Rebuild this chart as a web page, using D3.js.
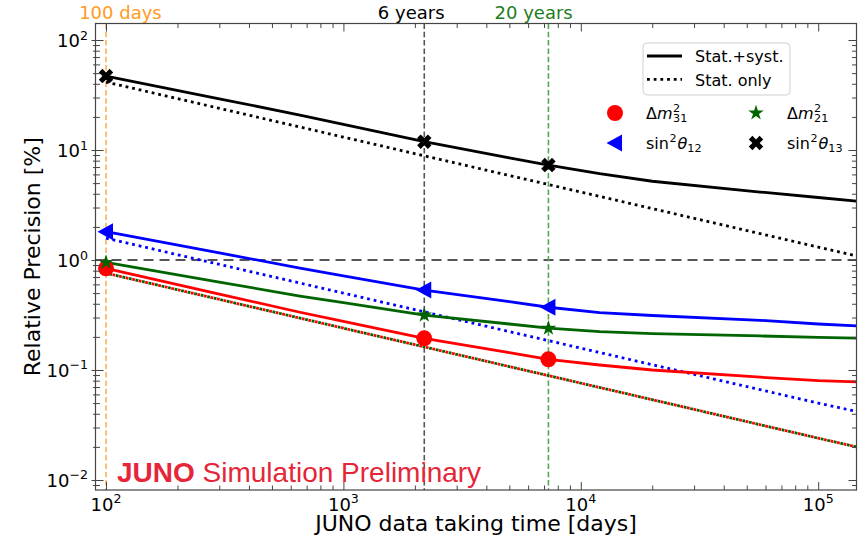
<!DOCTYPE html>
<html><head><meta charset="utf-8">
<script src="https://cdn.jsdelivr.net/npm/d3@7"></script>
<style>body{margin:0;background:#fff} svg{display:block}</style>
</head><body><svg id="c" width="862" height="541"></svg>
<script>
// ---------------- data ----------------
const days      = [100, 300, 656, 1000, 2191, 5000, 7305, 12000, 20000, 57000, 100000, 145000];
const dm31Syst  = [0.84, 0.49, 0.335, 0.277, 0.194, 0.144, 0.125, 0.111, 0.100, 0.086, 0.080, 0.078];
const dm21Syst  = [0.95, 0.63, 0.47, 0.409, 0.316, 0.262, 0.240, 0.223, 0.214, 0.204, 0.198, 0.195];
const s12Syst   = [1.81, 1.16, 0.845, 0.719, 0.533, 0.418, 0.372, 0.333, 0.313, 0.283, 0.262, 0.252];
const s13Syst   = [47, 29.2, 20.8, 17.1, 11.9, 8.5, 7.3, 6.1, 5.2, 4.15, 3.7, 3.43];
const statDays  = [100, 1000, 10000, 100000, 145000];
const dm31Stat  = [0.76, 0.24, 0.076, 0.024, 0.020];
const dm21Stat  = [0.76, 0.24, 0.076, 0.024, 0.020];
const s12Stat   = [1.58, 0.50, 0.158, 0.050, 0.042];
const s13Stat   = [41.5, 13.1, 4.15, 1.31, 1.09];
const markerDays = [100, 2191, 7305];
const refDays    = [100, 2191, 7305];
const refLabels  = ["100 days", "6 years", "20 years"];
const refLabelDays = [115, 1930, 6330];
const xTickVals = [1e2, 1e3, 1e4, 1e5];
const xTickExp  = ["2", "3", "4", "5"];
const yTickVals = [1e-2, 1e-1, 1, 1e1, 1e2];
const yTickExp  = ["\u22122", "\u22121", "0", "1", "2"];

// ---------------- layout ----------------
const L = 95.5, R = 856.5, T = 23.5, B = 490;
const svg = d3.select("#c");
const x = d3.scaleLog().domain([90.3, 145000]).range([L, R]);
const y = d3.scaleLog().domain([0.00811, 141.3]).range([B, T]);
const FONT = "DejaVu Sans, Verdana, sans-serif";

svg.append("defs").append("clipPath").attr("id", "clip")
  .append("rect").attr("x", L).attr("y", T).attr("width", R - L).attr("height", B - T);

const series = [
  {name: "dm31", color: "#ff0000", syst: dm31Syst, stat: dm31Stat, marker: "circle"},
  {name: "dm21", color: "#006400", syst: dm21Syst, stat: dm21Stat, marker: "star"},
  {name: "s12",  color: "#0000ff", syst: s12Syst,  stat: s12Stat,  marker: "tri"},
  {name: "s13",  color: "#000000", syst: s13Syst,  stat: s13Stat,  marker: "x"}
];

// reference lines
const refLine = ["#ffb05a", "#555555", "#55a555"];
const refText = ["#ff9a22", "#000000", "#1e7d1e"];
const plot = svg.append("g").attr("clip-path", "url(#clip)");
plot.append("line").attr("x1", L).attr("x2", R).attr("y1", y(1)).attr("y2", y(1))
  .attr("stroke", "#555").attr("stroke-width", 1.8).attr("stroke-dasharray", "10,6");
refDays.forEach((d, i) => {
  plot.append("line").attr("x1", x(d)).attr("x2", x(d)).attr("y1", T).attr("y2", B)
    .attr("stroke", refLine[i]).attr("stroke-width", 1.6).attr("stroke-dasharray", "5.5,2.8");
  svg.append("text").attr("x", x(refLabelDays[i])).attr("y", 19.3).attr("text-anchor", "middle")
    .attr("font-family", FONT).attr("font-size", 18).attr("fill", refText[i]).text(refLabels[i]);
});

// lines
const lineGen = (xs) => d3.line().x((d, i) => x(xs[i])).y(d => y(d));
series.forEach(s => {
  plot.append("path").attr("d", lineGen(statDays)(s.stat)).attr("fill", "none")
    .attr("stroke", s.color).attr("stroke-width", 2.8).attr("stroke-dasharray", "2.8,3.9")
    .attr("stroke-dashoffset", s.name === "dm21" ? 3.3 : 0);
});
series.forEach(s => {
  plot.append("path").attr("d", lineGen(days)(s.syst)).attr("fill", "none")
    .attr("stroke", s.color).attr("stroke-width", 2.8).attr("stroke-linejoin", "round");
});

// markers
function marker(g, type, cx, cy, color) {
  if (type === "circle") {
    g.append("circle").attr("cx", cx).attr("cy", cy).attr("r", 8).attr("fill", color);
  } else if (type === "tri") {
    g.append("path").attr("d", `M${cx - 8.5},${cy} L${cx + 7},${cy - 8.5} L${cx + 7},${cy + 8.5} Z`).attr("fill", color);
  } else if (type === "star") {
    g.append("path").attr("d", d3.symbol(d3.symbolStar, 75)()).attr("transform", `translate(${cx},${cy})`).attr("fill", color);
  } else if (type === "x") {
    g.append("path").attr("d", d3.symbol(d3.symbolCross, 130)()).attr("transform", `translate(${cx},${cy}) rotate(45)`).attr("fill", color);
  }
}
const mg = svg.append("g");
series.forEach(s => {
  markerDays.forEach(md => {
    const i = days.indexOf(md);
    marker(mg, s.marker, x(md), y(s.syst[i]), s.color);
  });
});

// ---------------- axes ----------------
const minorX = [], minorY = [];
for (let e = 1; e <= 5; e++) for (let m = 2; m <= 9; m++) { const v = m * Math.pow(10, e); if (v > 90.3 && v < 145000) minorX.push(v); }
for (let e = -3; e <= 2; e++) for (let m = 2; m <= 9; m++) { const v = m * Math.pow(10, e); if (v > 0.00811 && v < 141.3) minorY.push(v); }

const axisColor = "#444";
function styleAxis(g) { g.select(".domain").remove(); g.selectAll("line").attr("stroke", axisColor).attr("stroke-width", 1); g.selectAll("text").remove(); }
svg.append("g").attr("transform", `translate(0,${B})`).call(d3.axisBottom(x).tickValues(xTickVals).tickSize(-8)).call(styleAxis);
svg.append("g").attr("transform", `translate(0,${B})`).call(d3.axisBottom(x).tickValues(minorX).tickSize(-4.5)).call(styleAxis);
svg.append("g").attr("transform", `translate(0,${T})`).call(d3.axisTop(x).tickValues(xTickVals).tickSize(-8)).call(styleAxis);
svg.append("g").attr("transform", `translate(0,${T})`).call(d3.axisTop(x).tickValues(minorX).tickSize(-4.5)).call(styleAxis);
svg.append("g").attr("transform", `translate(${L},0)`).call(d3.axisLeft(y).tickValues(yTickVals).tickSize(-8)).call(styleAxis);
svg.append("g").attr("transform", `translate(${L},0)`).call(d3.axisLeft(y).tickValues(minorY).tickSize(-4.5)).call(styleAxis);
svg.append("g").attr("transform", `translate(${L},0)`).call(d3.axisLeft(y).tickValues(yTickVals).tickSize(4)).call(styleAxis);
svg.append("g").attr("transform", `translate(${L},0)`).call(d3.axisLeft(y).tickValues(minorY).tickSize(2.5)).call(styleAxis);
svg.append("g").attr("transform", `translate(${R},0)`).call(d3.axisRight(y).tickValues(yTickVals).tickSize(-8)).call(styleAxis);
svg.append("g").attr("transform", `translate(${R},0)`).call(d3.axisRight(y).tickValues(minorY).tickSize(-4.5)).call(styleAxis);
svg.append("rect").attr("x", L).attr("y", T).attr("width", R - L).attr("height", B - T)
  .attr("fill", "none").attr("stroke", axisColor).attr("stroke-width", 1.2);

// tick labels
xTickVals.forEach((v, i) => {
  const t = svg.append("text").attr("x", x(v)).attr("y", 510.5).attr("text-anchor", "middle")
    .attr("font-family", FONT).attr("font-size", 18).attr("fill", "#000");
  t.append("tspan").text("10");
  t.append("tspan").attr("dy", -7.5).attr("font-size", 12.6).text(xTickExp[i]);
});
yTickVals.forEach((v, i) => {
  const t = svg.append("text").attr("x", 88).attr("y", y(v) + 7).attr("text-anchor", "end")
    .attr("font-family", FONT).attr("font-size", 18).attr("fill", "#000");
  t.append("tspan").text("10");
  t.append("tspan").attr("dy", -7.5).attr("font-size", 12.6).text(yTickExp[i]);
});

// axis titles
svg.append("text").attr("x", (L + R) / 2).attr("y", 531).attr("text-anchor", "middle")
  .attr("font-family", FONT).attr("font-size", 22).text("JUNO data taking time [days]");
svg.append("text").attr("transform", `translate(40,${(T + B) / 2}) rotate(-90)`).attr("text-anchor", "middle")
  .attr("font-family", FONT).attr("font-size", 22).text("Relative Precision [%]");

// JUNO label
const jt = svg.append("text").attr("x", 117).attr("y", 481.5).attr("font-family", "Liberation Sans, Arial, sans-serif")
  .attr("font-size", 28).attr("fill", "#e52639");
jt.append("tspan").attr("font-weight", "bold").text("JUNO");
jt.append("tspan").text(" Simulation Preliminary");

// ---------------- legends ----------------
const lg = svg.append("g");
lg.append("rect").attr("x", 643).attr("y", 43).attr("width", 147).attr("height", 52).attr("rx", 4)
  .attr("fill", "#fff").attr("fill-opacity", 0.8).attr("stroke", "#d0d0d0").attr("stroke-width", 1);
lg.append("line").attr("x1", 647).attr("x2", 682).attr("y1", 56).attr("y2", 56).attr("stroke", "#000").attr("stroke-width", 2.8);
lg.append("line").attr("x1", 647).attr("x2", 682).attr("y1", 79.3).attr("y2", 79.3).attr("stroke", "#000").attr("stroke-width", 2.8).attr("stroke-dasharray", "2.8,3.9");
lg.append("text").attr("x", 695).attr("y", 62).attr("font-family", FONT).attr("font-size", 16).text("Stat.+syst.");
lg.append("text").attr("x", 695).attr("y", 85.5).attr("font-family", FONT).attr("font-size", 16).text("Stat. only");

// math-like labels in a single text element
function mathText(g, x0, base, parts) {
  const t = g.append("text").attr("x", x0).attr("y", base).attr("font-family", FONT).attr("font-size", 16);
  let level = 0;
  parts.forEach(p => {
    const ts = t.append("tspan");
    let target = 0, size = 16;
    if (p.sup) { target = -7; size = 11.2; }
    if (p.sub) { target = 3.5; size = 11.2; }
    ts.attr("dy", target - level).attr("font-size", size).attr("font-style", p.it ? "italic" : "normal");
    if (p.dx) ts.attr("dx", p.dx);
    ts.text(p.t);
    level = target;
  });
}
const legendItems = [
  {s: 0, mx: 615, my: 113, parts: [{t: "\u0394"}, {t: "m", it: true}, {t: "2", sup: 1, dx: 0.5}, {t: "31", sub: 1, dx: -7.1}]},
  {s: 1, mx: 756, my: 113, parts: [{t: "\u0394"}, {t: "m", it: true}, {t: "2", sup: 1, dx: 0.5}, {t: "21", sub: 1, dx: -7.1}]},
  {s: 2, mx: 615, my: 143, parts: [{t: "sin"}, {t: "2", sup: 1, dx: 0.5}, {t: "\u03b8", it: true, dx: 1}, {t: "12", sub: 1}]},
  {s: 3, mx: 756, my: 143, parts: [{t: "sin"}, {t: "2", sup: 1, dx: 0.5}, {t: "\u03b8", it: true, dx: 1}, {t: "13", sub: 1}]}
];
legendItems.forEach(it => {
  const s = series[it.s];
  marker(lg, s.marker, it.mx, it.my, s.color);
  mathText(lg, it.mx + 31, it.my + 5.5, it.parts);
});
</script>
</body></html>
